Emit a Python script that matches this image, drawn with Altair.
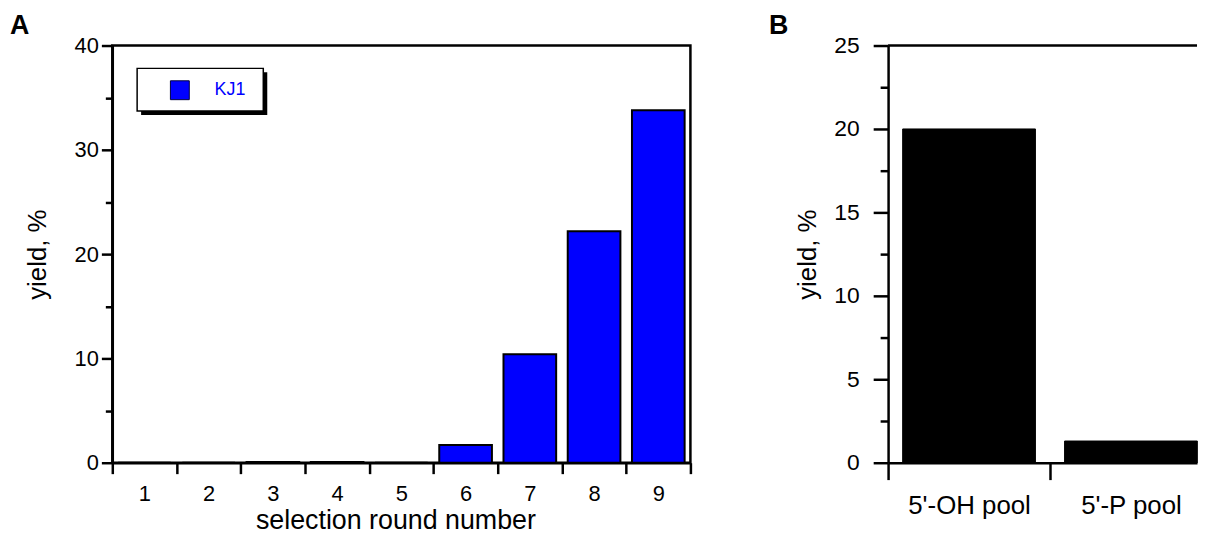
import json
import altair as alt
import pandas as pd

# ---------------- data ----------------
rounds = [1, 2, 3, 4, 5, 6, 7, 8, 9]
kj1_yield = [0.0, 0.0, 0.08, 0.08, 0.0, 1.7, 10.4, 22.2, 33.8]
series_name = ["KJ1"] * len(rounds)

pools = ["5'-OH pool", "5'-P pool"]
pool_pos = [0.5, 1.5]
pool_yield = [20.0, 1.3]

yA_ticks = [0, 5, 10, 15, 20, 25, 30, 35, 40]
yB_ticks = [0, 2.5, 5, 7.5, 10, 12.5, 15, 17.5, 20, 22.5, 25]
xA_ticks = [0.5 + 0.5 * i for i in range(19)]
xB_ticks = [0, 0.5, 1, 1.5]

FONT = "Liberation Sans"
BLUE = "#0000ff"
HALF = 0.41
WA, HA = 582, 420
BAND_B = 163
WB = 311

dfA = pd.DataFrame({"round": rounds, "yield": kj1_yield, "series": series_name})
dfB = pd.DataFrame({"pool": pools, "pos": pool_pos, "yield": pool_yield})

# ---------------- panel A ----------------
yA_axis = alt.Axis(
    values=yA_ticks, format="d",
    labelExpr="datum.value % 10 === 0 ? datum.label : ''",
    tickSize={"condition": {"test": "datum.value % 10 === 0", "value": 11}, "value": 7},
    tickWidth=2.5, domainWidth=2.5, domainColor="black", tickColor="black",
    labelFont=FONT, labelFontSize=22, labelColor="black", labelPadding=3,
    title="yield, %", titleFont=FONT, titleFontSize=26, titleFontWeight="normal",
    titleColor="black", titlePadding=24, grid=False, zindex=1,
)
xA_axis = alt.Axis(
    values=xA_ticks, format=".0f",
    labelExpr="datum.value % 1 === 0 ? datum.label : ''",
    tickOpacity={"condition": {"test": "datum.value % 1 === 0", "value": 0}, "value": 1},
    tickSize=11, tickWidth=2.5, domainWidth=2.5, domainColor="black", tickColor="black",
    labelFont=FONT, labelFontSize=22, labelColor="black", labelPadding=10,
    labelFlush=False, labelOverlap=False,
    title="selection round number", titleFont=FONT, titleFontSize=27,
    titleFontWeight="normal", titleColor="black", titlePadding=3, titleX=WA / 2 - 6,
    grid=False, zindex=1,
)

one = alt.Data(values=[{"k": 1}])
shadow = alt.Chart(one).mark_rect(color="black").encode(
    x=alt.value(29), x2=alt.value(156), y=alt.value(27), y2=alt.value(70)
)
box = alt.Chart(one).mark_rect(fill="white", stroke="black", strokeWidth=1.5).encode(
    x=alt.value(25), x2=alt.value(152), y=alt.value(23), y2=alt.value(66)
)

barsA = alt.Chart(dfA).transform_calculate(
    x0=f"datum.round - {HALF}", x1=f"datum.round + {HALF}"
).mark_rect(stroke="black", strokeWidth=2).encode(
    x=alt.X("x0:Q", scale=alt.Scale(domain=[0.5, 9.5], nice=False, zero=False), axis=xA_axis),
    x2="x1:Q",
    y=alt.Y("yield:Q", scale=alt.Scale(domain=[0, 40], nice=False), axis=yA_axis),
    y2=alt.datum(0),
    color=alt.Color(
        "series:N",
        scale=alt.Scale(domain=["KJ1"], range=[BLUE]),
        legend=alt.Legend(
            orient="none", legendX=25, legendY=23, title=None,
            symbolType="square", symbolSize=361, symbolStrokeColor="#000040",
            symbolStrokeWidth=1, labelColor=BLUE, labelFont=FONT, labelFontSize=18,
            padding=12, symbolOffset=21, labelOffset=25, cornerRadius=0,
        ),
    ),
)

panelA = alt.layer(shadow, box, barsA).properties(
    width=WA, height=HA,
    title=alt.TitleParams("A", anchor="start", frame="group", dx=-103, offset=-5,
                          fontSize=27, fontWeight="bold", font=FONT, color="black"),
    view=alt.ViewBackground(stroke="black", strokeWidth=2.5),
)

# ---------------- panel B ----------------
label_expr_b = "".join(
    f"datum.value === {p} ? {json.dumps(n)} : " for p, n in zip(pool_pos, pools)
) + "''"

yB_axis = alt.Axis(
    values=yB_ticks,
    labelExpr="datum.value % 5 === 0 ? datum.label : ''",
    tickSize={"condition": {"test": "datum.value % 5 === 0", "value": 15}, "value": 8},
    tickWidth=2.5, domainWidth=2.5, domainColor="black", tickColor="black",
    labelFont=FONT, labelFontSize=23, labelColor="black", labelPadding=14,
    title="yield, %", titleFont=FONT, titleFontSize=26, titleFontWeight="normal",
    titleColor="black", titlePadding=13, grid=False, zindex=1,
)
xB_axis = alt.Axis(
    values=xB_ticks,
    labelExpr=label_expr_b,
    tickOpacity={"condition": {"test": "datum.value % 1 === 0", "value": 1}, "value": 0},
    tickSize=17, tickWidth=2.5, domainWidth=2.5, domainColor="black", tickColor="black",
    labelFont=FONT, labelFontSize=26, labelColor="black", labelPadding=13,
    labelFlush=False, labelOverlap=False, title=None, grid=False, zindex=1,
)

barsB = alt.Chart(dfB).transform_calculate(
    x0=f"datum.pos - {HALF}", x1=f"datum.pos + {HALF}"
).mark_rect(color="black", stroke="black", strokeWidth=1).encode(
    x=alt.X("x0:Q", scale=alt.Scale(domain=[0, WB / BAND_B], nice=False, zero=False), axis=xB_axis),
    x2="x1:Q",
    y=alt.Y("yield:Q", scale=alt.Scale(domain=[0, 25], nice=False), axis=yB_axis),
    y2=alt.datum(0),
)

topB = alt.Chart(one).mark_rule(color="black", strokeWidth=2.5).encode(
    x=alt.value(0), x2=alt.value(WB), y=alt.value(0)
)

panelB = alt.layer(barsB, topB).properties(
    width=WB, height=HA,
    title=alt.TitleParams("B", anchor="start", frame="group", dx=-120, offset=-5,
                          fontSize=27, fontWeight="bold", font=FONT, color="black"),
    view=alt.ViewBackground(stroke="transparent"),
)

chart = alt.hconcat(panelA, panelB, spacing=75).properties(
    padding={"left": 0, "top": 0, "right": 0, "bottom": 0}
).configure(font=FONT)

chart.save("out.html", embed_options={"renderer": "svg", "actions": False})
